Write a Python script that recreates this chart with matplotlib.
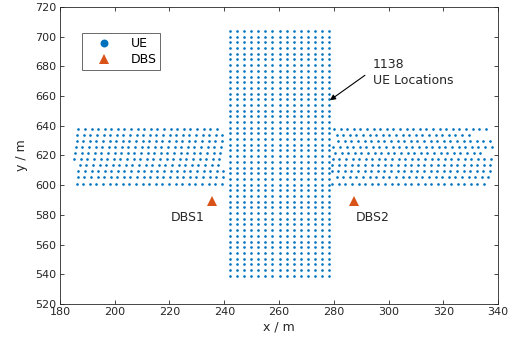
import numpy as np
import matplotlib
matplotlib.use("Agg")
import matplotlib.pyplot as plt

plt.rcParams["font.family"] = ["DejaVu Sans"]

UE_BLUE = "#0072BD"
DBS_ORANGE = "#D95319"
AX_COLOR = "#262626"

# vertical street block (regular grid)
block_x = [242.1, 278.3]
block_cols = 15
block_y = [539.1, 703.8]
block_rows = 44

# horizontal street arms: one entry per row, top to bottom
arm_y = [638.0, 633.9, 629.8, 625.7, 621.6, 617.5, 613.4, 609.3, 605.2, 601.1]
arm_dx = 2.41
left_start = [186.69, 186.32, 186.10, 185.74, 185.48, 185.22, 187.20, 186.69, 186.47, 186.10]
left_count = [22, 23, 23, 23, 23, 23, 22, 23, 23, 23]
right_start = [280.09, 281.07, 281.66, 279.84, 280.46, 279.62, 279.36, 279.25, 281.07, 279.47]
right_count = [24, 21, 24, 25, 23, 25, 25, 25, 24, 24]

dbs_x = [235.4, 287.4]
dbs_y = [589.6, 589.6]
dbs_names = ["DBS1", "DBS2"]
dbs_label_xy = [(226.8, 578.0), (294.3, 578.0)]

n_ue = 1138

# collect UE points
gx, gy = np.meshgrid(np.linspace(*block_x, block_cols), np.linspace(*block_y, block_rows))
ue_x = [gx.ravel()]
ue_y = [gy.ravel()]
for starts, counts in ((left_start, left_count), (right_start, right_count)):
    for y, x0, n in zip(arm_y, starts, counts):
        ue_x.append(x0 + arm_dx * np.arange(n))
        ue_y.append(np.full(n, y))
ue_x = np.concatenate(ue_x)
ue_y = np.concatenate(ue_y)

fig = plt.figure(figsize=(5.15, 3.46), dpi=100)
ax = fig.add_axes([0.1165, 0.1214, 0.8505, 0.8584])

ax.plot(ue_x, ue_y, "o", color=UE_BLUE, markersize=1.9, markeredgewidth=0, label="UE")
ax.plot(dbs_x, dbs_y, "^", color=DBS_ORANGE, markersize=7, markeredgewidth=0, label="DBS")

for name, (tx, ty) in zip(dbs_names, dbs_label_xy):
    ax.text(tx, ty, name, ha="center", va="center", fontsize=9, color=AX_COLOR)

# count label with pointer into the vertical block
ax.text(294.3, 676.0, f"{n_ue}\nUE Locations", ha="left", va="center",
        fontsize=9, color=AX_COLOR, linespacing=1.25)
ax.annotate("", xy=(278.6, 657.2), xytext=(291.4, 674.0),
            arrowprops=dict(arrowstyle="-|>", color="black", lw=0.8,
                            mutation_scale=8, shrinkA=0, shrinkB=0))

ax.set_xlim(180, 340)
ax.set_ylim(520, 720)
ax.set_xticks(np.arange(180, 341, 20))
ax.set_yticks(np.arange(520, 721, 20))
ax.tick_params(direction="in", length=3, width=0.6, colors=AX_COLOR, labelsize=8,
               top=True, right=True, labeltop=False, labelright=False, pad=2.5)
for sp in ax.spines.values():
    sp.set_color(AX_COLOR)
    sp.set_linewidth(0.6)
ax.set_xlabel("x / m", fontsize=9, color=AX_COLOR, labelpad=2)
ax.set_ylabel("y / m", fontsize=9, color=AX_COLOR, labelpad=5)

leg = ax.legend(loc="upper left", bbox_to_anchor=(0.05, 0.912), fontsize=9, frameon=True,
                fancybox=False, edgecolor=AX_COLOR, borderpad=0.3, handletextpad=0.6,
                markerscale=3.0, labelspacing=0.25, handlelength=3.0, borderaxespad=0)
leg.get_frame().set_linewidth(0.6)
leg.legend_handles[1].set_markersize(7)

fig.savefig("out.png", dpi=100, facecolor="white")
